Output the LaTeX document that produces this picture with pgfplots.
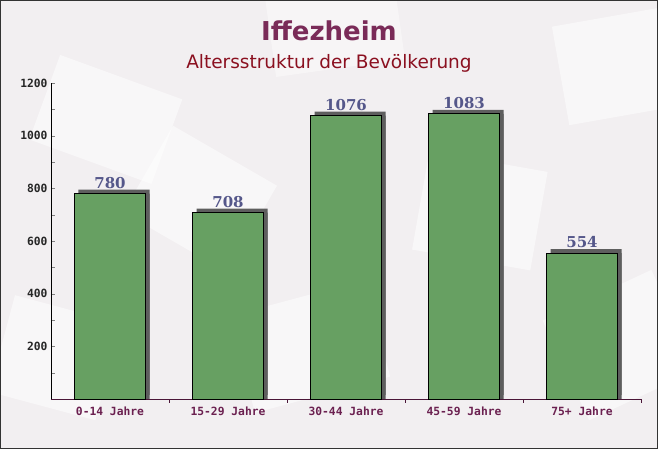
\documentclass[border=0pt]{standalone}
\usepackage{pgfplots}
\pgfplotsset{compat=1.18}
\usepackage{fontspec}
\setmainfont{DejaVu Sans}
\setmonofont{DejaVu Sans Mono}
\newfontfamily\valfont{DejaVu Serif}
\definecolor{bgcol}{HTML}{F2EFF1}
\definecolor{titlecol}{HTML}{7A2B58}
\definecolor{subcol}{HTML}{8B1020}
\definecolor{barcol}{HTML}{67A062}
\definecolor{shadecol}{HTML}{5E5E5E}
\definecolor{valcol}{HTML}{55578A}
\definecolor{xlabcol}{HTML}{6B2050}

\begin{document}
\begin{tikzpicture}[x=1pt,y=1pt]
  % background
  \fill[bgcol] (0,0) rectangle (658,449);
  \begin{scope}
    \clip (0,0) rectangle (658,449);
    \fill[white,opacity=0.5,rotate around={-20:(90,330)}] (40,290) rectangle (170,380);
    \fill[white,opacity=0.5,rotate around={15:(300,100)}] (240,50) rectangle (380,150);
    \fill[white,opacity=0.5,rotate around={-10:(470,240)}] (420,190) rectangle (540,290);
    \fill[white,opacity=0.5,rotate around={25:(600,100)}] (560,40) rectangle (680,150);
    \fill[white,opacity=0.5,rotate around={-30:(200,250)}] (140,200) rectangle (260,300);
    \fill[white,opacity=0.5,rotate around={10:(600,380)}] (560,330) rectangle (680,430);
    \fill[white,opacity=0.5,rotate around={-15:(60,90)}] (0,40) rectangle (110,140);
    \fill[white,opacity=0.4,rotate around={8:(330,420)}] (270,380) rectangle (400,460);
  \end{scope}
  \draw[black!80,line width=1pt] (0.5,0.5) rectangle (657.5,448.5);

  \node[font=\fontsize{26}{28}\selectfont\bfseries,text=titlecol] at (329,418) {Iffezheim};
  \node[font=\fontsize{18.5}{20}\selectfont,text=subcol] at (329,386) {Altersstruktur der Bevölkerung};

  \begin{axis}[
      at={(51pt,50pt)}, anchor=south west,
      scale only axis,
      width=590pt, height=316pt,
      xmin=-0.5, xmax=4.5,
      ymin=0, ymax=1200,
      axis x line*=bottom,
      axis y line*=left,
      x axis line style={-,draw=xlabcol!70!black},
      y axis line style={-,draw=black},
      xtick={0,1,2,3,4},
      xticklabels={0-14 Jahre,15-29 Jahre,30-44 Jahre,45-59 Jahre,75+ Jahre},
      x tick label style={font=\fontsize{11.3}{12}\selectfont\ttfamily\bfseries,text=xlabcol},
      major x tick style={draw=none},
      minor xtick={0.5,1.5,2.5,3.5,4.5},
      minor x tick style={draw=xlabcol!70!black},
      ytick={200,400,...,1200},
      minor ytick={100,300,...,1100},
      y tick label style={font=\fontsize{11.3}{12}\selectfont\ttfamily\bfseries,text=black!85},
      tick align=inside,
      major tick length=4pt,
      minor tick length=4pt,
      xtick pos=bottom, ytick pos=left,
      /pgf/number format/assume math mode=true,
      /pgf/number format/1000 sep={},
      ybar, bar width=71pt,
      clip=false,
    ]
    % shadows
    \addplot[fill=shadecol, draw=none, bar shift=4pt]
      coordinates {(0,780) (1,708) (2,1076) (3,1083) (4,554)};
    \addplot[fill=shadecol, draw=none, bar shift=4pt, yshift=4pt]
      coordinates {(0,780) (1,708) (2,1076) (3,1083) (4,554)};
    % bars
    \addplot[fill=barcol, draw=black, line width=0.8pt, bar shift=0pt,
      nodes near coords,
      every node near coord/.append style={font=\fontsize{15}{16}\selectfont\valfont\bfseries,text=valcol,yshift=1.5pt}]
      coordinates {(0,780) (1,708) (2,1076) (3,1083) (4,554)};
  \end{axis}
\end{tikzpicture}
\end{document}
